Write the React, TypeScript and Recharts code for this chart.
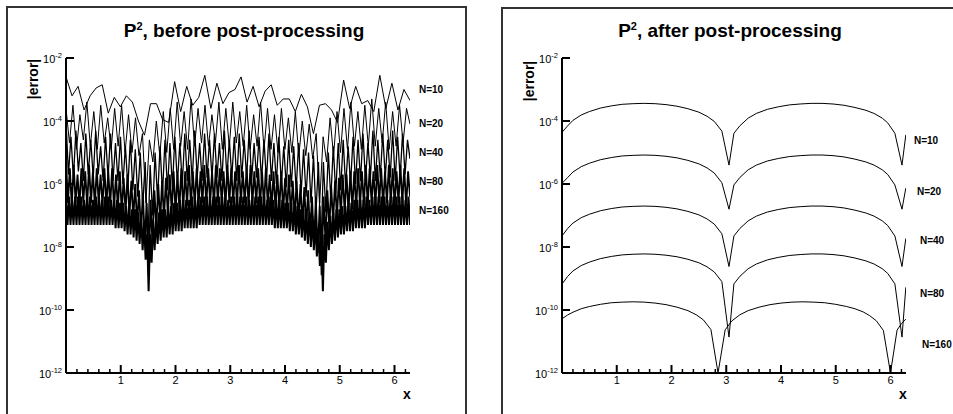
import { LineChart, Line, XAxis, YAxis } from "recharts";

const FONT = '"Liberation Sans", Arial, Helvetica, sans-serif';
const X_END = 6.2832;

const SERIES_LABELS = ["N=10", "N=20", "N=40", "N=80", "N=160"];
const PANEL_TITLES = ["before post-processing", "after post-processing"];
const Y_TICKS = [1e-12, 1e-10, 1e-8, 1e-6, 1e-4, 1e-2];
const X_TICKS = [
  0.2, 0.4, 0.6, 0.8, 1, 1.2, 1.4, 1.6, 1.8, 2, 2.2, 2.4, 2.6, 2.8, 3, 3.2,
  3.4, 3.6, 3.8, 4, 4.2, 4.4, 4.6, 4.8, 5, 5.2, 5.4, 5.6, 5.8, 6, 6.2,
];

// before post-processing: log10 |error|, sampled evenly over [0, 2pi]
const BEFORE_N10 = [
  -2.6, -3.2, -2.9, -3.65, -3.2, -2.95, -2.85, -3.75, -3.25, -3.55,
  -3.2, -3.4, -4.0, -4.45, -3.45, -3.45, -3.95, -4.05, -2.75, -3.7,
  -2.9, -3.5, -3.25, -2.55, -3.6, -2.8, -3.45, -3.1, -3.0, -2.6,
  -3.4, -2.9, -3.55, -3.05, -2.85, -3.5, -3.3, -3.3, -3.7, -3.15,
  -3.55, -4.4, -3.5, -3.45, -3.65, -4.05, -2.7, -3.6, -2.9, -3.45,
  -3.35, -3.7, -2.55, -3.6, -2.8, -3.65, -3.0, -3.35,
];

const BEFORE_N20 = [
  -3.6, -4.7, -3.5, -4.9, -3.8, -4.6, -3.4, -4.8, -3.7, -4.9,
  -3.5, -4.7, -3.9, -4.9, -3.6, -4.8, -3.5, -5.0, -3.8, -5.0,
  -3.9, -5.1, -4.4, -6.6, -4.6, -5.3, -4.0, -5.1, -3.7, -5.0,
  -3.6, -4.9, -3.4, -4.8, -3.7, -4.9, -3.3, -4.8, -3.6, -4.7,
  -3.5, -4.8, -3.8, -4.7, -3.4, -4.9, -3.6, -4.8, -3.4, -4.7,
  -3.7, -4.8, -3.5, -4.9, -3.8, -4.8, -3.4, -4.9, -3.6, -4.9,
  -3.8, -5.0, -3.6, -4.9, -3.9, -5.0, -3.7, -5.1, -4.0, -5.1,
  -4.1, -5.2, -4.4, -6.6, -4.5, -5.3, -3.9, -5.1, -3.7, -5.0,
  -3.6, -4.9, -3.4, -4.8, -3.7, -4.9, -3.5, -4.8, -3.3, -4.8,
  -3.6, -4.7, -3.4, -4.9, -3.7, -4.8, -3.5, -4.7, -3.6, -4.1,
];

const BEFORE_N40 = [
  -4.0, -5.7, -4.5, -5.8, -4.3, -5.6, -4.7, -5.9, -4.4, -5.7,
  -4.6, -5.8, -4.3, -5.7, -4.8, -5.9, -4.5, -5.8, -4.4, -5.9,
  -4.7, -5.9, -4.5, -6.0, -4.8, -6.1, -4.6, -6.2, -4.9, -6.4,
  -5.0, -6.7, -5.3, -8.2, -5.4, -7.0, -5.0, -6.5, -4.8, -6.3,
  -4.6, -6.2, -4.7, -6.1, -4.5, -6.0, -4.7, -6.0, -4.4, -5.9,
  -4.6, -5.9, -4.3, -5.8, -4.7, -5.9, -4.4, -5.8, -4.6, -5.8,
  -4.4, -5.8, -4.7, -5.9, -4.3, -5.8, -4.6, -5.8, -4.5, -5.9,
  -4.4, -5.8, -4.6, -5.8, -4.3, -5.9, -4.7, -5.8, -4.5, -5.9,
  -4.6, -5.9, -4.4, -5.9, -4.7, -6.0, -4.5, -6.0, -4.8, -6.1,
  -4.6, -6.1, -4.8, -6.2, -4.7, -6.3, -4.9, -6.4, -5.0, -6.6,
  -5.1, -6.9, -5.3, -8.2, -5.3, -6.9, -5.0, -6.5, -4.8, -6.3,
  -4.7, -6.2, -4.6, -6.1, -4.8, -6.0, -4.5, -6.0, -4.6, -5.9,
  -4.4, -5.9, -4.7, -5.8, -4.3, -5.9, -4.6, -5.8, -4.4, -5.8,
  -4.6, -5.8, -4.3, -5.9, -4.5, -5.8, -4.4, -5.7, -4.6, -5.2,
];

const BEFORE_N80 = [
  -5.2, -6.6, -5.5, -6.7, -5.4, -6.6, -5.7, -6.7, -5.5, -6.6,
  -5.6, -6.7, -5.4, -6.6, -5.6, -6.7, -5.5, -6.6, -5.7, -6.7,
  -5.5, -6.7, -5.6, -6.7, -5.5, -6.8, -5.7, -6.8, -5.6, -6.9,
  -5.8, -6.9, -5.7, -7.0, -5.9, -7.1, -6.0, -7.3, -6.2, -7.5,
  -6.3, -7.8, -6.6, -8.9, -6.5, -7.9, -6.2, -7.4, -6.0, -7.2,
  -5.9, -7.1, -5.8, -7.0, -5.7, -6.9, -5.6, -6.9, -5.7, -6.8,
  -5.5, -6.8, -5.6, -6.7, -5.4, -6.7, -5.6, -6.7, -5.5, -6.7,
  -5.6, -6.6, -5.4, -6.7, -5.5, -6.6, -5.6, -6.7, -5.4, -6.6,
  -5.5, -6.6, -5.6, -6.7, -5.4, -6.6, -5.5, -6.6, -5.6, -6.7,
  -5.4, -6.6, -5.6, -6.6, -5.5, -6.7, -5.4, -6.6, -5.6, -6.6,
  -5.5, -6.7, -5.6, -6.7, -5.5, -6.7, -5.7, -6.8, -5.6, -6.8,
  -5.7, -6.8, -5.6, -6.9, -5.8, -6.9, -5.7, -7.0, -5.9, -7.1,
  -5.9, -7.2, -6.0, -7.3, -6.1, -7.4, -6.2, -7.6, -6.4, -7.9,
  -6.5, -8.2, -6.7, -8.9, -6.4, -7.8, -6.2, -7.4, -6.1, -7.2,
  -5.9, -7.1, -5.8, -7.0, -5.7, -6.9, -5.7, -6.9, -5.6, -6.8,
  -5.6, -6.8, -5.5, -6.7, -5.6, -6.7, -5.4, -6.7, -5.5, -6.6,
  -5.6, -6.7, -5.4, -6.6, -5.5, -6.7, -5.6, -6.6, -5.4, -6.6,
  -5.5, -6.7, -5.6, -6.6, -5.4, -6.6, -5.5, -6.7, -5.6, -6.4,
];

const BEFORE_N160 = [
  -6.5, -7.3, -6.4, -7.3, -6.5, -7.3, -6.4, -7.3, -6.4, -7.3,
  -6.4, -7.3, -6.5, -7.3, -6.4, -7.3, -6.4, -7.3, -6.5, -7.3,
  -6.4, -7.3, -6.4, -7.3, -6.5, -7.3, -6.4, -7.3, -6.4, -7.3,
  -6.5, -7.3, -6.5, -7.4, -6.5, -7.4, -6.6, -7.4, -6.6, -7.5,
  -6.7, -7.6, -6.7, -7.6, -6.8, -7.7, -6.8, -7.8, -6.9, -7.9,
  -7.0, -8.1, -7.2, -8.4, -7.6, -9.4, -7.6, -8.5, -7.2, -8.1,
  -7.0, -7.9, -6.9, -7.8, -6.8, -7.7, -6.8, -7.7, -6.7, -7.6,
  -6.7, -7.6, -6.6, -7.5, -6.6, -7.5, -6.5, -7.5, -6.5, -7.4,
  -6.5, -7.4, -6.5, -7.4, -6.4, -7.4, -6.5, -7.4, -6.4, -7.3,
  -6.4, -7.3, -6.4, -7.3, -6.4, -7.3, -6.5, -7.3, -6.4, -7.3,
  -6.4, -7.3, -6.4, -7.3, -6.4, -7.3, -6.4, -7.3, -6.5, -7.3,
  -6.4, -7.3, -6.4, -7.3, -6.4, -7.3, -6.4, -7.3, -6.4, -7.3,
  -6.4, -7.3, -6.5, -7.3, -6.4, -7.3, -6.4, -7.3, -6.4, -7.3,
  -6.4, -7.3, -6.4, -7.3, -6.5, -7.3, -6.4, -7.3, -6.5, -7.4,
  -6.5, -7.4, -6.5, -7.4, -6.5, -7.4, -6.6, -7.4, -6.6, -7.5,
  -6.6, -7.5, -6.7, -7.6, -6.7, -7.6, -6.8, -7.7, -6.8, -7.8,
  -6.9, -7.9, -6.9, -8.0, -7.0, -8.1, -7.2, -8.3, -7.4, -8.6,
  -7.6, -9.4, -7.6, -8.5, -7.2, -8.1, -7.0, -7.9, -6.9, -7.8,
  -6.8, -7.7, -6.8, -7.6, -6.7, -7.6, -6.7, -7.5, -6.6, -7.5,
  -6.6, -7.5, -6.5, -7.4, -6.5, -7.4, -6.5, -7.4, -6.5, -7.4,
  -6.4, -7.3, -6.5, -7.3, -6.4, -7.3, -6.4, -7.3, -6.4, -7.3,
  -6.4, -7.3, -6.4, -7.3, -6.5, -7.3, -6.4, -7.3, -6.4, -7.3,
  -6.4, -7.3, -6.4, -7.3, -6.4, -7.3, -6.5, -7.3, -6.4, -7.3,
];

// after post-processing: x positions and log10 |error|
const AFTER_X = [
  0, 0.1, 0.2, 0.35, 0.5, 0.7, 0.9, 1.1, 1.3, 1.5,
  1.7, 1.9, 2.1, 2.3, 2.5, 2.65, 2.78, 2.92, 3.05, 3.14,
  3.25, 3.4, 3.55, 3.75, 3.95, 4.15, 4.35, 4.55, 4.75, 4.95,
  5.15, 5.35, 5.55, 5.7, 5.85, 5.95, 6.08, 6.21, 6.28,
];
const AFTER_N10 = [
  -4.36, -4.16, -3.98, -3.81, -3.7, -3.59, -3.52, -3.47, -3.45, -3.44,
  -3.45, -3.48, -3.53, -3.61, -3.72, -3.85, -4.01, -4.32, -5.4, -4.39,
  -4.15, -3.91, -3.76, -3.63, -3.55, -3.49, -3.46, -3.44, -3.44, -3.46,
  -3.5, -3.57, -3.66, -3.76, -3.91, -4.06, -4.39, -5.4, -4.44,
];
const AFTER_N20 = [
  -5.98, -5.8, -5.62, -5.45, -5.34, -5.23, -5.16, -5.11, -5.09, -5.08,
  -5.09, -5.12, -5.17, -5.25, -5.36, -5.49, -5.65, -5.96, -6.8, -6.03,
  -5.79, -5.55, -5.4, -5.27, -5.19, -5.13, -5.1, -5.08, -5.08, -5.1,
  -5.14, -5.21, -5.3, -5.4, -5.55, -5.7, -6.03, -6.8, -6.13,
];
const AFTER_N40 = [
  -7.65, -7.42, -7.24, -7.07, -6.96, -6.85, -6.78, -6.73, -6.71, -6.7,
  -6.71, -6.74, -6.79, -6.87, -6.98, -7.11, -7.27, -7.58, -8.62, -7.65,
  -7.41, -7.17, -7.02, -6.89, -6.81, -6.75, -6.72, -6.7, -6.7, -6.72,
  -6.76, -6.83, -6.92, -7.02, -7.17, -7.32, -7.65, -8.62, -7.73,
];
const AFTER_N80 = [
  -9.18, -8.94, -8.76, -8.59, -8.48, -8.37, -8.3, -8.25, -8.23, -8.22,
  -8.23, -8.26, -8.31, -8.39, -8.5, -8.63, -8.79, -9.1, -10.86, -9.17,
  -8.93, -8.69, -8.54, -8.41, -8.33, -8.27, -8.24, -8.22, -8.22, -8.24,
  -8.28, -8.35, -8.44, -8.54, -8.69, -8.84, -9.17, -10.86, -9.28,
];
const AFTER_X_N160 = [
  0, 0.1, 0.2, 0.35, 0.5, 0.7, 0.9, 1.1, 1.3, 1.5,
  1.7, 1.9, 2.1, 2.3, 2.45, 2.58, 2.72, 2.85, 2.98, 3.1,
  3.25, 3.4, 3.6, 3.8, 4.0, 4.2, 4.4, 4.6, 4.8, 5.0,
  5.2, 5.35, 5.5, 5.62, 5.74, 5.87, 6.0, 6.12, 6.2, 6.28,
];
const AFTER_N160 = [
  -10.28, -10.16, -10.07, -9.96, -9.89, -9.82, -9.77, -9.75, -9.74, -9.75,
  -9.78, -9.83, -9.91, -10.02, -10.15, -10.31, -10.62, -12.0, -10.63, -10.35,
  -10.15, -10.02, -9.91, -9.83, -9.78, -9.75, -9.74, -9.75, -9.77, -9.82,
  -9.89, -9.96, -10.06, -10.18, -10.34, -10.65, -12.0, -10.64, -10.43, -10.29,
];

type Row = { x: number; y: number };

// evenly spaced samples across the period
const evenRows = (logs: number[]): Row[] =>
  logs.map((v, i) => ({ x: (i / (logs.length - 1)) * X_END, y: 10 ** v }));

const gridRows = (xs: number[], logs: number[]): Row[] =>
  xs.map((x, i) => ({ x, y: 10 ** logs[i] }));

const beforeSeries = [BEFORE_N10, BEFORE_N20, BEFORE_N40, BEFORE_N80, BEFORE_N160].map(evenRows);
const afterSeries = [
  gridRows(AFTER_X, AFTER_N10),
  gridRows(AFTER_X, AFTER_N20),
  gridRows(AFTER_X, AFTER_N40),
  gridRows(AFTER_X, AFTER_N80),
  gridRows(AFTER_X_N160, AFTER_N160),
];

function YTick(props: any) {
  const { x, y, payload } = props;
  const exp = Math.round(Math.log10(payload.value));
  return (
    <g>
      <line x1={x} x2={x + 8} y1={y} y2={y} stroke="#000" strokeWidth={2} />
      <text x={x - 4} y={y + 5} textAnchor="end" fontSize={11} fontFamily={FONT} fill="#000">
        10
        <tspan dy={-5} fontSize={7.5}>
          {exp}
        </tspan>
      </text>
    </g>
  );
}

function XTick(props: any) {
  const { x, y, payload } = props;
  const major = Number.isInteger(payload.value);
  return (
    <g>
      <line
        x1={x}
        x2={x}
        y1={y}
        y2={y - (major ? 8 : 4)}
        stroke="#000"
        strokeWidth={major ? 2 : 1.5}
      />
      {major && (
        <text x={x} y={y + 11} textAnchor="middle" fontSize={11} fontFamily={FONT} fill="#000">
          {payload.value}
        </text>
      )}
    </g>
  );
}

function Panel({
  left,
  width,
  plotLeft,
  plotRight,
  series,
  strokeWidths,
}: {
  left: number;
  width: number;
  plotLeft: number;
  plotRight: number;
  series: Row[][];
  strokeWidths: number[];
}) {
  return (
    <div style={{ position: "absolute", left, top: 0 }}>
      <LineChart
        width={width}
        height={414}
        margin={{ top: 58, bottom: 40, left: plotLeft - 1, right: width - plotRight }}
      >
        <XAxis
          type="number"
          dataKey="x"
          domain={[0, X_END]}
          allowDataOverflow
          ticks={X_TICKS}
          interval={0}
          height={1}
          tickSize={0}
          tickMargin={0}
          tickLine={false}
          axisLine={{ stroke: "#000", strokeWidth: 2 }}
          tick={<XTick />}
        />
        <YAxis
          type="number"
          scale="log"
          domain={[1e-12, 1e-2]}
          allowDataOverflow
          ticks={Y_TICKS}
          interval={0}
          width={1}
          tickSize={0}
          tickMargin={0}
          tickLine={false}
          axisLine={{ stroke: "#000", strokeWidth: 2 }}
          tick={<YTick />}
        />
        {series.map((rows, i) => (
          <Line
            key={SERIES_LABELS[i]}
            data={rows}
            dataKey="y"
            type="linear"
            stroke="#000"
            strokeWidth={strokeWidths[i]}
            dot={false}
            isAnimationActive={false}
          />
        ))}
      </LineChart>
    </div>
  );
}

const frame = {
  position: "absolute" as const,
  borderTop: "2px solid #333",
  borderLeft: "2px solid #333",
  borderRight: "2px solid #333",
  boxSizing: "border-box" as const,
  height: 420,
};

export default function App() {
  const leftLegendY = [93, 127, 156, 185, 214];
  const rightLegend = [
    [914, 144],
    [917, 195],
    [920, 244],
    [920, 297],
    [922, 348],
  ];
  return (
    <div
      style={{
        position: "absolute",
        left: 0,
        top: 0,
        width: 953,
        height: 414,
        overflow: "hidden",
        background: "#fff",
        fontFamily: FONT,
      }}
    >
      <div style={{ ...frame, left: 6, top: 6, width: 461 }} />
      <div style={{ ...frame, left: 501, top: 7, width: 470 }} />

      <Panel
        left={0}
        width={480}
        plotLeft={66}
        plotRight={410}
        series={beforeSeries}
        strokeWidths={[1, 1, 1.3, 1.8, 2]}
      />
      <Panel
        left={480}
        width={473}
        plotLeft={82}
        plotRight={426}
        series={afterSeries}
        strokeWidths={[1, 1, 1, 1, 1]}
      />

      <svg
        width={953}
        height={414}
        style={{ position: "absolute", left: 0, top: 0, pointerEvents: "none" }}
        fontFamily={FONT}
      >
        {[244, 730].map((cx, p) => (
          <g key={cx}>
            <text x={cx} y={37} textAnchor="middle" fontSize={19} fontWeight="bold" fill="#000">
              P
              <tspan dy={-7} fontSize={11}>
                2
              </tspan>
              <tspan dy={7}>, {PANEL_TITLES[p]}</tspan>
            </text>
          </g>
        ))}
        <text transform="translate(38,79) rotate(-90)" textAnchor="middle" fontSize={14} fontWeight="bold">
          |error|
        </text>
        <text transform="translate(534,81) rotate(-90)" textAnchor="middle" fontSize={14} fontWeight="bold">
          |error|
        </text>
        <text x={407} y={399} textAnchor="middle" fontSize={14} fontWeight="bold">
          x
        </text>
        <text x={903} y={399} textAnchor="middle" fontSize={14} fontWeight="bold">
          x
        </text>
        {SERIES_LABELS.map((s, i) => (
          <text key={"l" + s} x={419} y={leftLegendY[i]} fontSize={10} fontWeight="bold">
            {s}
          </text>
        ))}
        {SERIES_LABELS.map((s, i) => (
          <text key={"r" + s} x={rightLegend[i][0]} y={rightLegend[i][1]} fontSize={10} fontWeight="bold">
            {s}
          </text>
        ))}
      </svg>
    </div>
  );
}
